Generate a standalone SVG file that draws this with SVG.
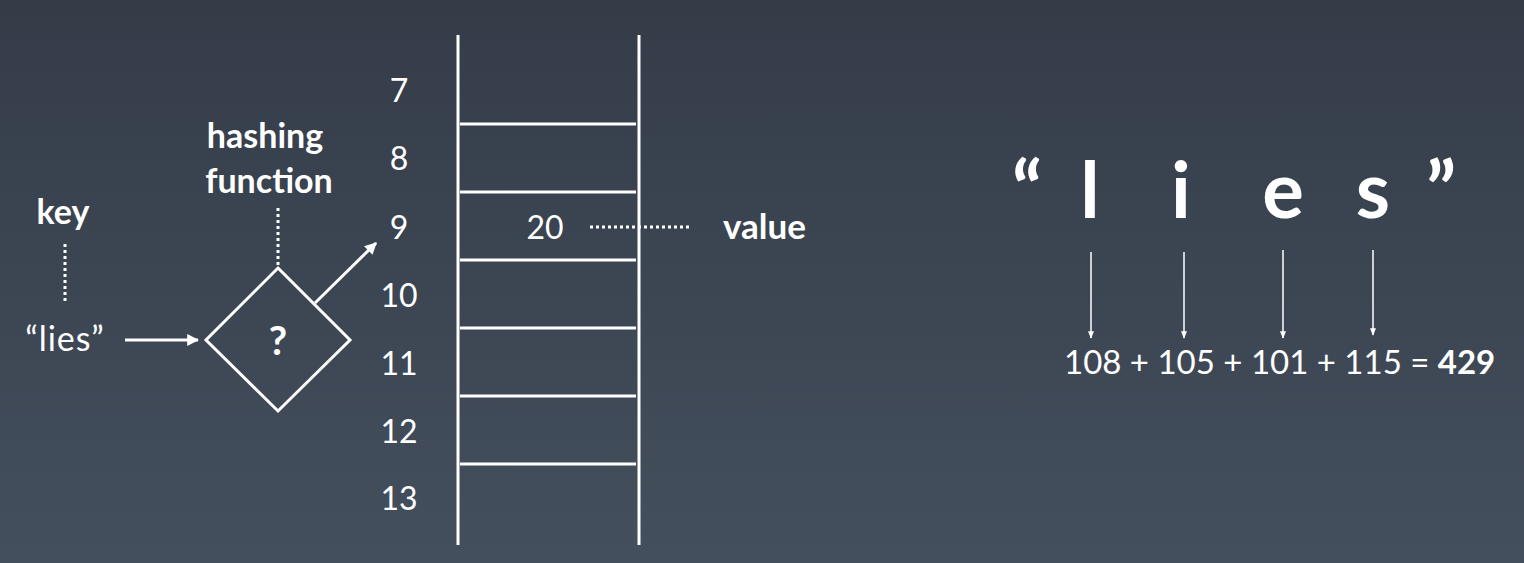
<svg xmlns="http://www.w3.org/2000/svg" width="1524" height="563" viewBox="0 0 1524 563">
<defs>
<linearGradient id="bg" x1="0" y1="0" x2="0" y2="1">
<stop offset="0" stop-color="#343c48"/>
<stop offset="1" stop-color="#444f5d"/>
</linearGradient>
<marker id="ah" viewBox="0 0 10 10" refX="9" refY="5" markerWidth="4" markerHeight="4" orient="auto" markerUnits="strokeWidth">
<path d="M0,0 L10,5 L0,10 z" fill="#fff"/>
</marker>
<marker id="ahs" viewBox="0 0 10 10" refX="9" refY="5" markerWidth="5" markerHeight="5" orient="auto" markerUnits="strokeWidth">
<path d="M0,1 L10,5 L0,9 z" fill="#fff"/>
</marker>
<style>
text{fill:#fff;font-family:Lato,"Open Sans",sans-serif}
.n{font-size:32px;text-anchor:middle}
.b{font-weight:bold}
.line{stroke:#fff;stroke-width:3;fill:none}
.dot{stroke:#fff;stroke-width:3;fill:none;stroke-dasharray:3 3}
.thin{stroke:#fff;stroke-width:1.5;fill:none}
.big{font-size:78px;font-weight:bold;text-anchor:middle}
</style>
</defs>
<rect width="1524" height="563" fill="url(#bg)"/>

<g id="table">
<line class="line" x1="458" y1="35" x2="458" y2="545"/>
<line class="line" x1="639" y1="35" x2="639" y2="545"/>
<line class="line" x1="460" y1="124" x2="636" y2="124"/>
<line class="line" x1="460" y1="192" x2="636" y2="192"/>
<line class="line" x1="460" y1="260" x2="636" y2="260"/>
<line class="line" x1="460" y1="328" x2="636" y2="328"/>
<line class="line" x1="460" y1="396" x2="636" y2="396"/>
<line class="line" x1="460" y1="464" x2="636" y2="464"/>
</g>
<g id="indices">
<text class="n" x="399" y="102">7</text>
<text class="n" x="399" y="170">8</text>
<text class="n" x="399" y="239">9</text>
<text class="n" x="399" y="307">10</text>
<text class="n" x="399" y="375">11</text>
<text class="n" x="399" y="443">12</text>
<text class="n" x="399" y="510">13</text>
</g>
<g id="key-label"><text class="b" x="63" y="224" style="font-size:34px;text-anchor:middle">key</text></g>
<g id="key-value"><text x="65" y="351" style="font-size:34px;text-anchor:middle;letter-spacing:1px">“lies”</text></g>
<g id="hash-label">
<text class="b" x="265" y="148" style="font-size:34px;text-anchor:middle">hashing</text>
<text class="b" x="269" y="193" style="font-size:34px;text-anchor:middle">function</text>
</g>
<g id="hash-fn">
<polygon class="line" points="278,268 350,340 278,411 206,340"/>
<text class="b" x="278" y="355" style="font-size:40px;text-anchor:middle">?</text>
</g>
<g id="cell-value"><text x="545" y="239" style="font-size:32px;text-anchor:middle">20</text></g>
<g id="value-label"><text class="b" x="723" y="239" style="font-size:35px">value</text></g>

<g id="letters">
<text class="big" x="1027" y="218">“</text>
<text class="big" x="1090" y="218">l</text>
<text class="big" x="1181" y="218">i</text>
<text class="big" x="1283" y="218">e</text>
<text class="big" x="1373" y="218">s</text>
<text class="big" x="1441" y="218">”</text>
</g>
<g id="sum"><text x="1064" y="374" style="font-size:33px">108 + 105 + 101 + 115 = <tspan class="b">429</tspan></text></g>

<g id="connectors">
<line class="dot" x1="65" y1="244" x2="65" y2="304"/>
<line class="dot" x1="278" y1="208" x2="278" y2="266"/>
<line class="dot" x1="590" y1="227" x2="690" y2="227"/>
<line class="line" x1="125" y1="340" x2="198" y2="340" marker-end="url(#ah)"/>
<line class="line" x1="315" y1="303" x2="376" y2="243" marker-end="url(#ah)"/>
<line class="thin" x1="1091" y1="252" x2="1091" y2="338" marker-end="url(#ahs)"/>
<line class="thin" x1="1184" y1="252" x2="1184" y2="338" marker-end="url(#ahs)"/>
<line class="thin" x1="1283" y1="250" x2="1283" y2="338" marker-end="url(#ahs)"/>
<line class="thin" x1="1373" y1="250" x2="1373" y2="335" marker-end="url(#ahs)"/>
</g>
</svg>
